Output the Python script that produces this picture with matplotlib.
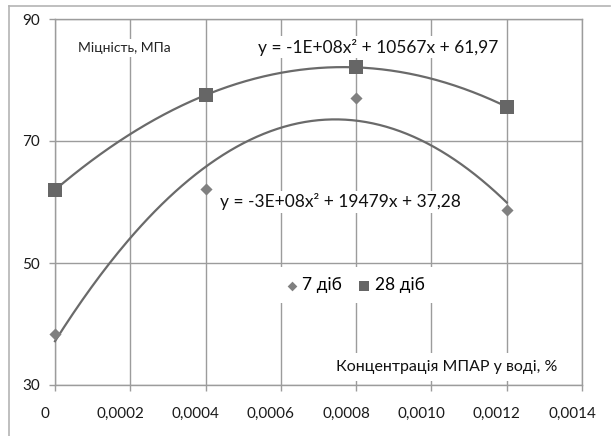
import numpy as np
import matplotlib
matplotlib.use("Agg")
import matplotlib.pyplot as plt
import matplotlib.transforms as mtransforms
from matplotlib.lines import Line2D
from matplotlib.ticker import FuncFormatter, FixedLocator

plt.rcParams['font.family'] = ['Lato', 'Noto Sans', 'DejaVu Sans']

# ---- data ----
concentration = [0.0, 0.0004, 0.0008, 0.0012]
strength_7 = [38.4, 62.1, 77.0, 58.7]
strength_28 = [62.0, 77.5, 82.1, 75.6]
series_labels = ["7 діб", "28 діб"]
eq_28 = "y = -1E+08x² + 10567x + 61,97"
eq_7 = "y = -3E+08x² + 19479x + 37,28"
y_title = "Міцність, МПа"
x_title = "Концентрація МПАР у воді, %"
x_ticks = [0, 0.0002, 0.0004, 0.0006, 0.0008, 0.0010, 0.0012, 0.0014]
y_ticks = [30, 50, 70, 90]

W, H = 612, 436
fig = plt.figure(figsize=(W / 100, H / 100), dpi=100)
fig.patch.set_facecolor('white')

# outer chart border (left and top visible)
border_col = '#b4b4b4'
fig.add_artist(Line2D([9 / W, 9 / W], [0, 1 - 6 / H], transform=fig.transFigure, color=border_col, lw=1.2))
fig.add_artist(Line2D([9 / W, 610 / W], [1 - 6 / H, 1 - 6 / H], transform=fig.transFigure, color=border_col, lw=1.2))

ax = fig.add_axes([55 / W, 1 - 385 / H, (582 - 55) / W, (385 - 19) / H])
ax.set_xlim(0, 0.0014)
ax.set_ylim(30, 90)

grid_col = '#9c9c9c'
ax.xaxis.set_major_locator(FixedLocator(x_ticks))
ax.yaxis.set_major_locator(FixedLocator(y_ticks))
ax.xaxis.set_major_formatter(FuncFormatter(lambda v, p: "0" if abs(v) < 1e-12 else f"{v:.4f}".replace('.', ',')))
ax.yaxis.set_major_formatter(FuncFormatter(lambda v, p: f"{v:.0f}"))
ax.grid(True, color=grid_col, lw=1.0)
ax.set_axisbelow(True)
for s in ax.spines.values():
    s.set_color(grid_col)
    s.set_linewidth(1.0)
ax.tick_params(axis='both', direction='out', length=4, width=1.0, color=grid_col,
               labelsize=11, labelcolor='#1a1a1a')
ax.tick_params(axis='x', pad=12)
ax.tick_params(axis='y', pad=7)

# shift x tick labels slightly left as in reference
offset = mtransforms.ScaledTranslation(-0.10, 0, fig.dpi_scale_trans)
for lab in ax.get_xticklabels():
    lab.set_transform(lab.get_transform() + offset)

# trendlines (2nd order polynomial fits of each series)
xs = np.array(concentration)
xx = np.linspace(xs.min(), xs.max(), 200)
line_col = '#6a6a6a'
for vals in (strength_7, strength_28):
    coef = np.polyfit(xs * 1000, np.array(vals), 2)
    ax.plot(xx, np.polyval(coef, xx * 1000), color=line_col, lw=1.6, zorder=3, clip_on=False)

ax.scatter(concentration, strength_7, marker='D', s=38, color='#808080', zorder=4,
           label=series_labels[0], linewidths=0, clip_on=False)
ax.scatter(concentration, strength_28, marker='s', s=90, color='#666666', zorder=4,
           label=series_labels[1], linewidths=0, clip_on=False)

box = dict(facecolor='white', edgecolor='none', pad=2)
ax.text(0.000858, 85.4, eq_28, ha='center', va='center', fontsize=12.5, color='#111111', bbox=box, zorder=2.5)
ax.text(0.000757, 60.0, eq_7, ha='center', va='center', fontsize=12.5, color='#111111', bbox=box, zorder=2.5)
ax.text(0.000185, 85.25, y_title, ha='center', va='center', fontsize=10, color='#222222', bbox=box, zorder=2.5)
ax.text(0.001041, 32.95, x_title, ha='center', va='center', fontsize=11.5, color='#111111',
        bbox=dict(facecolor='white', edgecolor='none', pad=5), zorder=2.5)

leg = ax.legend(loc='center', bbox_to_anchor=(0.567, 0.273), ncol=2, frameon=True, fontsize=12.5,
                handletextpad=0.1, columnspacing=0.8, handlelength=1.0, borderpad=0.6,
                markerscale=0.8)
leg.get_frame().set_facecolor('white')
leg.get_frame().set_edgecolor('none')
leg.get_frame().set_alpha(1)
leg.get_frame().set_boxstyle('square', pad=0)

fig.savefig('out.png', dpi=100)
